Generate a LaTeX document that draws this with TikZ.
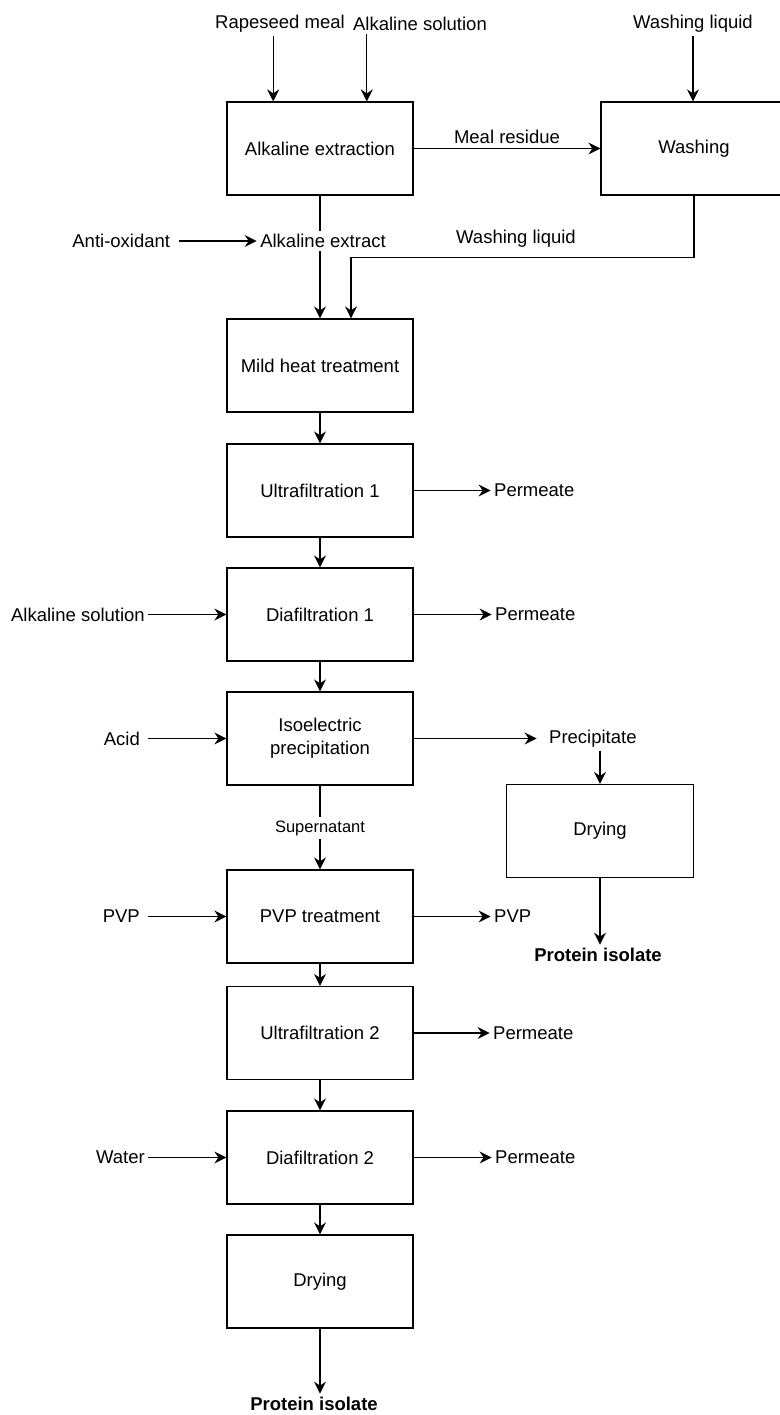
\documentclass[tikz,border=0pt]{standalone}
\usepackage{fontspec}
\setmainfont{Liberation Sans}
\usetikzlibrary{positioning,arrows.meta,calc}

\begin{document}
\begin{tikzpicture}
[x=1pt, y=-1pt, line width=1.2pt,
 proc/.style={draw, minimum width=186pt, minimum height=93pt, align=center, inner sep=2pt, font=\fontsize{18.5}{23}\selectfont},
 lbl/.style={inner sep=3pt, font=\fontsize{18.5}{22}\selectfont},
 small/.style={inner sep=3pt, font=\fontsize{16.5}{20}\selectfont},
 prod/.style={inner sep=3pt, font=\fontsize{18.5}{22}\selectfont\bfseries},
 flow/.style={-{Stealth[length=12pt,width=12pt,inset=4pt]}}]
\useasboundingbox (0,0) rectangle (779,1415);

\node[proc] (ext) at (320,148.5) {Alkaline extraction};
\node[proc] (wash) at (694,148.5) {Washing};
\node[proc] (heat) at (320,365.5) {Mild heat treatment};
\node[proc] (uf1) at (320,490.5) {Ultrafiltration 1};
\node[proc] (df1) at (320,614.5) {Diafiltration 1};
\node[proc] (iep) at (320,738.5) {Isoelectric\\precipitation};
\node[proc] (pvpt) at (320,916.5) {PVP treatment};
\node[proc] (uf2) at (320,1033) {Ultrafiltration 2};
\node[proc] (df2) at (320,1157.5) {Diafiltration 2};
\node[proc] (dry) at (320,1281.5) {Drying};
\node[proc, minimum width=187pt] (dry2) at (600,831) {Drying};

\node[lbl] (meal) at (280,24) {Rapeseed meal};
\node[lbl] (alk) at (420,24) {Alkaline solution};
\node[lbl] (wl) at (693,24) {Washing liquid};
\node[lbl] (ae) at (323,241) {Alkaline extract};
\node[lbl, left=83pt of ae] (ao) {Anti-oxidant};
\node[lbl] (wl2) at (516,239) {Washing liquid};
\node[lbl, right=77pt of uf1] (perm1) {Permeate};
\node[lbl, left=78pt of df1] (alk2) {Alkaline solution};
\node[lbl, right=78pt of df1] (perm2) {Permeate};
\node[lbl, left=83pt of iep] (acid) {Acid};
\node[lbl, right=132pt of iep] (prec) {Precipitate};
\node[small] (sup) at (320,828) {Supernatant};
\node[lbl, left=83pt of pvpt] (pvpin) {PVP};
\node[lbl, right=77pt of pvpt] (pvpout) {PVP};
\node[lbl, right=76pt of uf2] (perm3) {Permeate};
\node[lbl, left=78pt of df2] (water) {Water};
\node[lbl, right=78pt of df2] (perm4) {Permeate};
\node[prod] (pi1) at (598,955) {Protein isolate};
\node[prod] (pi2) at (314,1404) {Protein isolate};

\coordinate (ext1) at ($(ext.north west)!.25!(ext.north east)$);
\coordinate (ext2) at ($(ext.north west)!.75!(ext.north east)$);
\coordinate (wbend) at ($(wash.south)+(0,62)$);
\coordinate (heatin) at ($(heat.north)+(31,0)$);

\draw[flow] (meal.south -| ext1) -- (ext1);
\draw[flow] (alk.south -| ext2) -- (ext2);
\draw[flow] (wl.south) -- (wl.south |- wash.north);
\draw[flow] (ext) -- (wash) node[lbl, midway, above=1pt] (mres) {Meal residue};
\draw (ext.south) -- (ext.south |- ae.north);
\draw[flow] (ext.south |- ae.south) -- (heat.north);
\draw[flow, shorten <=5pt] (ao) -- (ae);
\draw[flow] (wash.south) -- (wbend) -| (heatin);

\foreach \a/\b in {heat/uf1, uf1/df1, df1/iep, pvpt/uf2, uf2/df2, df2/dry}
  \draw[flow] (\a) -- (\b);
\foreach \a/\b in {uf1/perm1, df1/perm2, pvpt/pvpout, uf2/perm3, df2/perm4, alk2/df1, water/df2}
  \draw[flow] (\a) -- (\b);
\foreach \a/\b in {acid/iep, pvpin/pvpt}
  \draw[flow, shorten <=5pt] (\a) -- (\b);

\draw[flow, shorten >=9pt] (iep) -- (prec);
\draw[flow] (prec.south -| dry2.north) -- (dry2.north);
\draw[flow] (dry2.south) -- (dry2.south |- pi1.north);
\draw (iep.south) -- (sup.north);
\draw[flow] (sup.south) -- (pvpt.north);
\draw[flow] (dry.south) -- (dry.south |- pi2.north);
\end{tikzpicture}
\end{document}
